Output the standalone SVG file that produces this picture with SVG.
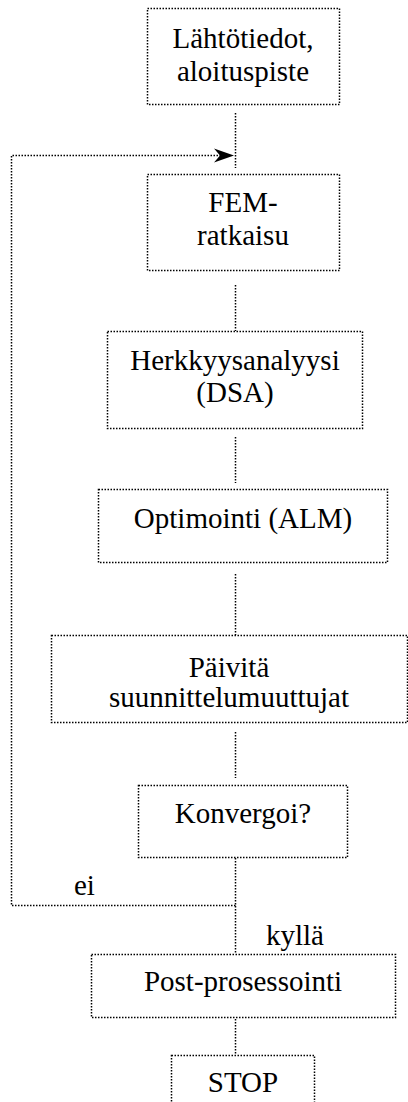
<svg xmlns="http://www.w3.org/2000/svg" width="408" height="1102" viewBox="0 0 408 1102">
<style>
.box{fill:#fff;stroke:#000;stroke-width:1.5;stroke-dasharray:1.5 1.5}
.ln{fill:none;stroke:#000;stroke-width:1.5;stroke-dasharray:1.5 1.5}
.t{font-family:'Liberation Serif','Times New Roman',Times,'DejaVu Serif',serif;font-size:29px;fill:#000}
.c{text-anchor:middle}
</style>
<rect width="408" height="1102" fill="#fff"/>
<g id="connectors">
<path class="ln" d="M235.5,113 V168"/>
<path class="ln" d="M235.5,285 V331"/>
<path class="ln" d="M235.5,437 V483"/>
<path class="ln" d="M235.5,574 V635"/>
<path class="ln" d="M235.5,732 V778"/>
<path class="ln" d="M235.5,858 V953"/>
<path class="ln" d="M235.5,1019 V1054"/>
<path class="ln" d="M235.5,905.5 H11.5 V155.5 H222"/>
<polygon points="234,155.5 214,148.5 220,155.5 214,162.5" fill="#000"/>
<text class="t" x="74" y="895">ei</text>
<text class="t" x="266" y="945">kyllä</text>
</g>
<g id="n1">
<rect class="box" x="147.5" y="8.5" width="192" height="96"/>
<text class="t c" x="243" y="48">Lähtötiedot,</text>
<text class="t c" x="243" y="81">aloituspiste</text>
</g>
<g id="n2">
<rect class="box" x="147.5" y="174.5" width="192" height="96"/>
<text class="t c" x="243" y="212">FEM-</text>
<text class="t c" x="243" y="245">ratkaisu</text>
</g>
<g id="n3">
<rect class="box" x="107.5" y="331.5" width="255" height="97"/>
<text class="t c" x="235" y="370">Herkkyysanalyysi</text>
<text class="t c" x="235" y="402">(DSA)</text>
</g>
<g id="n4">
<rect class="box" x="98.5" y="489.5" width="289" height="73"/>
<text class="t c" x="243" y="528">Optimointi (ALM)</text>
</g>
<g id="n5">
<rect class="box" x="51.5" y="635.5" width="356" height="87"/>
<text class="t c" x="229" y="677">Päivitä</text>
<text class="t c" x="229" y="707">suunnittelumuuttujat</text>
</g>
<g id="n6">
<rect class="box" x="138.5" y="785.5" width="209" height="72"/>
<text class="t c" x="243" y="823">Konvergoi?</text>
</g>
<g id="n7">
<rect class="box" x="91.5" y="954.5" width="304" height="63"/>
<text class="t c" x="243" y="991">Post-prosessointi</text>
</g>
<g id="n8">
<rect class="box" x="171.5" y="1055.5" width="143" height="60"/>
<text class="t c" x="243" y="1092">STOP</text>
</g>
</svg>
